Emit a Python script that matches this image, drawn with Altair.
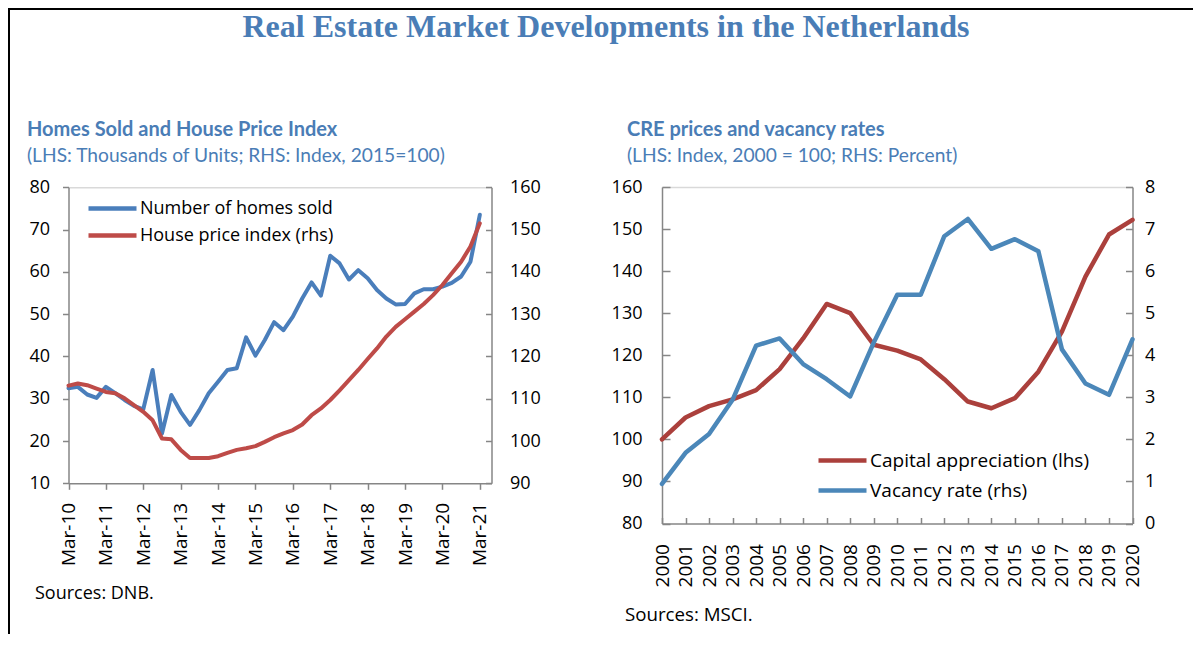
import json
import altair as alt
import pandas as pd

# ---------------- data ----------------
quarter_months = ["Mar", "Jun", "Sep", "Dec"]
quarters = [f"{m}-{y:02d}" for y in range(10, 22) for m in quarter_months][:45]
homes_sold = [32.5, 32.8, 31.0, 30.2, 32.8, 31.3, 29.7, 28.3, 27.5, 36.8,
              21.8, 30.9, 26.9, 23.8, 27.3, 31.3, 34.0, 36.8, 37.2, 44.5,
              40.2, 43.9, 48.1, 46.2, 49.4, 53.7, 57.5, 54.4, 63.8, 62.0,
              58.2, 60.4, 58.5, 55.7, 53.7, 52.3, 52.4, 54.9, 55.9, 55.9,
              56.5, 57.4, 58.9, 62.4, 73.5]
house_price_index = [113.1, 113.6, 113.2, 112.4, 111.6, 111.3, 110.1, 108.5, 106.9, 104.9,
                     100.6, 100.4, 97.9, 96.0, 96.0, 96.0, 96.4, 97.2, 97.9, 98.3,
                     98.8, 99.8, 100.9, 101.8, 102.6, 103.9, 106.1, 107.7, 109.7, 112.0,
                     114.4, 116.8, 119.4, 121.9, 124.7, 127.0, 128.8, 130.6, 132.4, 134.5,
                     136.9, 139.7, 142.4, 146.0, 151.5]
years = list(range(2000, 2021))
capital_appreciation = [100.0, 105.2, 107.9, 109.5, 111.7, 116.7, 124.0, 132.2, 130.0, 122.5,
                        121.1, 119.0, 114.3, 109.0, 107.4, 109.8, 116.1, 125.6, 138.7, 148.7, 152.2]
vacancy_rate = [0.94, 1.68, 2.13, 2.94, 4.23, 4.40, 3.79, 3.43, 3.02, 4.3,
                5.44, 5.44, 6.83, 7.24, 6.53, 6.76, 6.47, 4.14, 3.33, 3.06, 4.38]

left_ticks_y = list(range(10, 81, 10))
left_ticks_rhs = list(range(90, 161, 10))
right_ticks_y = list(range(80, 161, 10))
right_ticks_rhs = list(range(0, 9))

S_HOMES = "Number of homes sold"
S_HPI = "House price index (rhs)"
S_CAP = "Capital appreciation (lhs)"
S_VAC = "Vacancy rate (rhs)"

left_df = pd.DataFrame({"q": list(range(len(quarters))), "quarter": quarters,
                        "homes": homes_sold, "hpi": house_price_index})
right_df = pd.DataFrame({"year": years, "cap": capital_appreciation, "vac": vacancy_rate})

# ---------------- layout / style ----------------
W, H = 1185, 626
LX0, LX1, LY0, LY1 = 60.5, 483.5, 475.3, 179.3
RX0, RX1, RY0, RY1 = 654.0, 1124.5, 515.5, 179.0

BLUE_L, RED_L = "#4a7ebb", "#be4b48"
RED_R, BLUE_R = "#ab403c", "#4b87b9"
TITLE_C = "#4a7db6"
GRAY, LIGHT = "#868686", "#d9d9d9"
FONT = "Open Sans"
FS = 18

ax = dict(title=None, grid=False, domainColor=GRAY, tickColor=GRAY, domainWidth=1.5,
          tickWidth=1.5, labelFont=FONT, labelFontSize=FS, labelColor="#000000")
axx = {**ax, "labelFontSize": 19}


def leg(x, y, fs=FS):
    return alt.Legend(orient="none", legendX=x, legendY=y, title=None, symbolType="stroke",
                      symbolSize=2304, symbolStrokeWidth=4.5, labelFont=FONT, labelFontSize=fs,
                      labelColor="#000000", labelOffset=1, labelLimit=500, padding=0)


lx_scale = alt.Scale(domain=[0, 45.25], range=[LX0, LX1], nice=False, zero=False)
ly_scale = alt.Scale(domain=[10, 80], range=[LY0, LY1], nice=False, zero=False)
lr_scale = alt.Scale(domain=[90, 160], range=[LY0, LY1], nice=False, zero=False)
rx_scale = alt.Scale(domain=[2000, 2020], range=[RX0, RX1], nice=False, zero=False)
ry_scale = alt.Scale(domain=[80, 160], range=[RY0, RY1], nice=False, zero=False)
rr_scale = alt.Scale(domain=[0, 8], range=[RY0, RY1], nice=False, zero=False)

line_kw = dict(strokeCap="round", strokeJoin="round")

homes_line = alt.Chart(left_df).transform_calculate(series=f"'{S_HOMES}'").mark_line(
    strokeWidth=4, **line_kw).encode(
    x=alt.X("q:Q", scale=lx_scale,
            axis=alt.Axis(orient="bottom", offset=-(H - LY0), values=list(range(0, 45, 4)),
                          labelExpr=f"{json.dumps(quarters)}[datum.value]", labelAngle=270,
                          tickSize=6, labelPadding=13, **axx)),
    y=alt.Y("homes:Q", scale=ly_scale,
            axis=alt.Axis(orient="left", offset=-LX0, values=left_ticks_y, tickSize=6,
                          labelPadding=13, **ax)),
    color=alt.Color("series:N", scale=alt.Scale(domain=[S_HOMES], range=[BLUE_L]),
                    legend=leg(78, 198 - 24)),
)

hpi_line = alt.Chart(left_df).transform_calculate(series=f"'{S_HPI}'").mark_line(
    strokeWidth=4, **line_kw).encode(
    x=alt.X("q:Q", scale=lx_scale,
            axis=alt.Axis(orient="top", offset=-LY1, labels=False, ticks=False, tickSize=0,
                          **{**ax, "domainColor": LIGHT})),
    y=alt.Y("hpi:Q", scale=lr_scale,
            axis=alt.Axis(orient="right", offset=-(W - LX1), values=left_ticks_rhs, ticks=False,
                          tickSize=0, labelPadding=18, **ax)),
    color=alt.Color("series:N", scale=alt.Scale(domain=[S_HPI], range=[RED_L]),
                    legend=leg(78, 225 - 24)),
)

hpi_ticks = alt.Chart(left_df).mark_line(opacity=0).encode(
    x=alt.X("q:Q", scale=lx_scale, axis=None),
    y=alt.Y("hpi:Q", scale=lr_scale,
            axis=alt.Axis(orient="left", offset=-LX1, values=left_ticks_rhs, labels=False,
                          domain=False, tickSize=6, **ax)),
)

cap_line = alt.Chart(right_df).transform_calculate(series=f"'{S_CAP}'").mark_line(
    strokeWidth=4.5, **line_kw).encode(
    x=alt.X("year:Q", scale=rx_scale,
            axis=alt.Axis(orient="bottom", offset=-(H - RY0), values=years, format="d",
                          labelAngle=270, ticks=False, tickSize=0, labelPadding=20, **axx)),
    y=alt.Y("cap:Q", scale=ry_scale,
            axis=alt.Axis(orient="left", offset=-RX0, values=right_ticks_y, ticks=False,
                          tickSize=0, labelPadding=20, **ax)),
    color=alt.Color("series:N", scale=alt.Scale(domain=[S_CAP], range=[RED_R]),
                    legend=leg(808, 450 - 24, 19)),
)

cap_ticks = alt.Chart(right_df).mark_line(opacity=0).encode(
    x=alt.X("year:Q", scale=rx_scale,
            axis=alt.Axis(orient="top", offset=-RY0, values=years, labels=False, domain=False,
                          tickSize=6, **ax)),
    y=alt.Y("cap:Q", scale=ry_scale,
            axis=alt.Axis(orient="right", offset=-(W - RX0), values=right_ticks_y, labels=False,
                          domain=False, tickSize=8, **ax)),
)

vac_line = alt.Chart(right_df).transform_calculate(series=f"'{S_VAC}'").mark_line(
    strokeWidth=4.5, **line_kw).encode(
    x=alt.X("year:Q", scale=rx_scale,
            axis=alt.Axis(orient="top", offset=-RY1, labels=False, ticks=False, tickSize=0,
                          **{**ax, "domainColor": LIGHT})),
    y=alt.Y("vac:Q", scale=rr_scale,
            axis=alt.Axis(orient="right", offset=-(W - RX1), values=right_ticks_rhs, ticks=False,
                          tickSize=0, labelPadding=12, **ax)),
    color=alt.Color("series:N", scale=alt.Scale(domain=[S_VAC], range=[BLUE_R]),
                    legend=leg(808, 480 - 24, 19)),
)

vac_ticks = alt.Chart(right_df).mark_line(opacity=0).encode(
    x=alt.X("year:Q", scale=rx_scale, axis=None),
    y=alt.Y("vac:Q", scale=rr_scale,
            axis=alt.Axis(orient="left", offset=-RX1, values=right_ticks_rhs, labels=False,
                          domain=False, tickSize=7, **ax)),
)


def text_layer(txt, x, y, **mk):
    return alt.Chart(pd.DataFrame({"t": [txt]})).mark_text(**mk).encode(
        text="t:N", x=alt.value(x), y=alt.value(y))


texts = [
    text_layer("Real Estate Market Developments in the Netherlands", 598, 29, align="center",
               baseline="alphabetic", font="Liberation Serif", fontWeight="bold", fontSize=32,
               color=TITLE_C),
    text_layer("Homes Sold and House Price Index", 19, 128, align="left", baseline="alphabetic",
               font="Lato", fontWeight="bold", fontSize=20, color=TITLE_C),
    text_layer("(LHS: Thousands of Units; RHS: Index, 2015=100)", 19, 154, align="left",
               baseline="alphabetic", font="Lato", fontSize=19.2, color=TITLE_C),
    text_layer("CRE prices and vacancy rates", 619, 128, align="left", baseline="alphabetic",
               font="Lato", fontWeight="bold", fontSize=20, color=TITLE_C),
    text_layer("(LHS: Index, 2000 = 100; RHS: Percent)", 619, 154, align="left",
               baseline="alphabetic", font="Lato", fontSize=19.2, color=TITLE_C),
    text_layer("Sources: DNB.", 27, 586, align="left", baseline="middle", font=FONT,
               fontSize=FS, color="#000000"),
    text_layer("Sources: MSCI.", 617, 607, align="left", baseline="middle", font=FONT,
               fontSize=18.7, color="#000000"),
]

one = pd.DataFrame({"a": [0]})
border_top = alt.Chart(one).mark_rule(color="black", strokeWidth=2).encode(
    x=alt.value(0), x2=alt.value(W), y=alt.value(1))
border_left = alt.Chart(one).mark_rule(color="black", strokeWidth=2).encode(
    x=alt.value(1), y=alt.value(0), y2=alt.value(H))

chart = alt.layer(
    border_top, border_left, hpi_ticks, cap_ticks, vac_ticks,
    homes_line, hpi_line, cap_line, vac_line, *texts
).resolve_scale(x="independent", y="independent", color="independent").properties(
    width=W, height=H, autosize=alt.AutoSizeParams(type="none"), padding=0,
    background="white",
).configure_view(stroke=None)

chart.save("out.html", embed_options={"renderer": "svg", "actions": False})
